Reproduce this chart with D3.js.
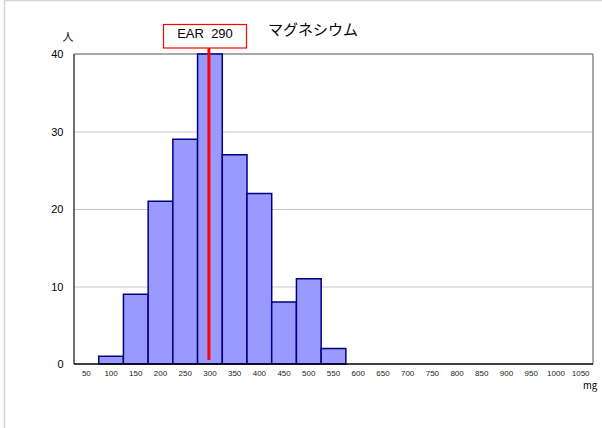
<!DOCTYPE html>
<html><head><meta charset="utf-8">
<script src="https://cdn.jsdelivr.net/npm/d3@7"></script>
<style>body{margin:0;background:#fff}svg{display:block}</style>
</head><body>
<svg id="c" width="602" height="428"></svg>
<script>
const categories = ["50","100","150","200","250","300","350","400","450","500","550","600","650","700","750","800","850","900","950","1000","1050"];
const counts = [0,1,9,21,29,40,27,22,8,11,2,0,0,0,0,0,0,0,0,0,0];
const yTicks = [0,10,20,30,40];
const earLabel = "EAR\u00a0\u00a0290";
const earCategory = "300";
const title = "マグネシウム";

const svg = d3.select("#c");
const L = 74, R = 593, T = 54, B = 364;
svg.append("rect").attr("x",4.5).attr("y",0.5).attr("width",640).attr("height",460)
  .attr("fill","none").attr("stroke","#d4d4d4").attr("stroke-width",1.5);

const x = d3.scaleBand().domain(categories).range([L,R]).padding(0);
const y = d3.scaleLinear().domain([0,40]).range([B,T]);

// gridlines
svg.append("g").selectAll("line").data(yTicks.filter(d=>d>0 && d<40)).join("line")
  .attr("x1",L).attr("x2",R).attr("y1",d=>y(d)+0.5).attr("y2",d=>y(d)+0.5)
  .attr("stroke","#c8c8c8").attr("stroke-width",1);
// frame top and right
svg.append("line").attr("x1",L).attr("x2",R).attr("y1",T).attr("y2",T).attr("stroke","#8c8c8c").attr("stroke-width",1.5);
svg.append("line").attr("x1",R).attr("x2",R).attr("y1",T).attr("y2",B).attr("stroke","#8c8c8c").attr("stroke-width",1.5);

// bars
svg.append("g").selectAll("rect").data(categories.map((c,i)=>({c,v:counts[i]})).filter(d=>d.v>0)).join("rect")
  .attr("x",d=>x(d.c)).attr("y",d=>y(d.v)).attr("width",x.bandwidth()).attr("height",d=>B-y(d.v))
  .attr("fill","#9999ff").attr("stroke","#000080").attr("stroke-width",1.5);

// axes
svg.append("line").attr("x1",L).attr("x2",L).attr("y1",T).attr("y2",B).attr("stroke","#404040").attr("stroke-width",1.5);
svg.append("line").attr("x1",L).attr("x2",R).attr("y1",B).attr("y2",B).attr("stroke","#000").attr("stroke-width",1.5);

const yAxis = d3.axisLeft(y).tickValues(yTicks).tickSize(0).tickPadding(10.5);
const gy = svg.append("g").attr("transform",`translate(${L},0)`).call(yAxis);
gy.select(".domain").remove();
gy.selectAll("text").attr("font-family","Arial, 'Liberation Sans', sans-serif").attr("font-size",11).attr("fill","#000").attr("dy","0.35em");

const xAxis = d3.axisBottom(x).tickSize(0).tickPadding(6);
const gx = svg.append("g").attr("transform",`translate(0,${B})`).call(xAxis);
gx.select(".domain").remove();
gx.selectAll("text").attr("font-family","Arial, 'Liberation Sans', sans-serif").attr("font-size",8).attr("fill","#222");

svg.append("text").attr("x",590).attr("y",389).attr("text-anchor","middle")
  .attr("font-family","'Noto Sans CJK JP', sans-serif").attr("font-size",9.5).text("mg");
svg.append("text").attr("x",68).attr("y",41).attr("text-anchor","middle")
  .attr("font-family","'Noto Sans CJK JP', sans-serif").attr("font-size",11).text("人");

// EAR line and box
const ex = x(earCategory) + x.bandwidth()/2 - 1;
svg.append("line").attr("x1",ex).attr("x2",ex).attr("y1",47).attr("y2",360).attr("stroke","#ff0000").attr("stroke-width",3);
svg.append("rect").attr("x",163.5).attr("y",24.5).attr("width",83).attr("height",23.5)
  .attr("fill","#fff").attr("stroke","#ff0000").attr("stroke-width",1.2);
svg.append("text").attr("x",205).attr("y",38).attr("text-anchor","middle")
  .attr("font-family","Arial, 'Liberation Sans', sans-serif").attr("font-size",13).text(earLabel);

svg.append("text").attr("x",313).attr("y",35).attr("text-anchor","middle")
  .attr("font-family","'Noto Sans CJK JP', sans-serif").attr("font-size",15).text(title);
</script>
</body></html>
